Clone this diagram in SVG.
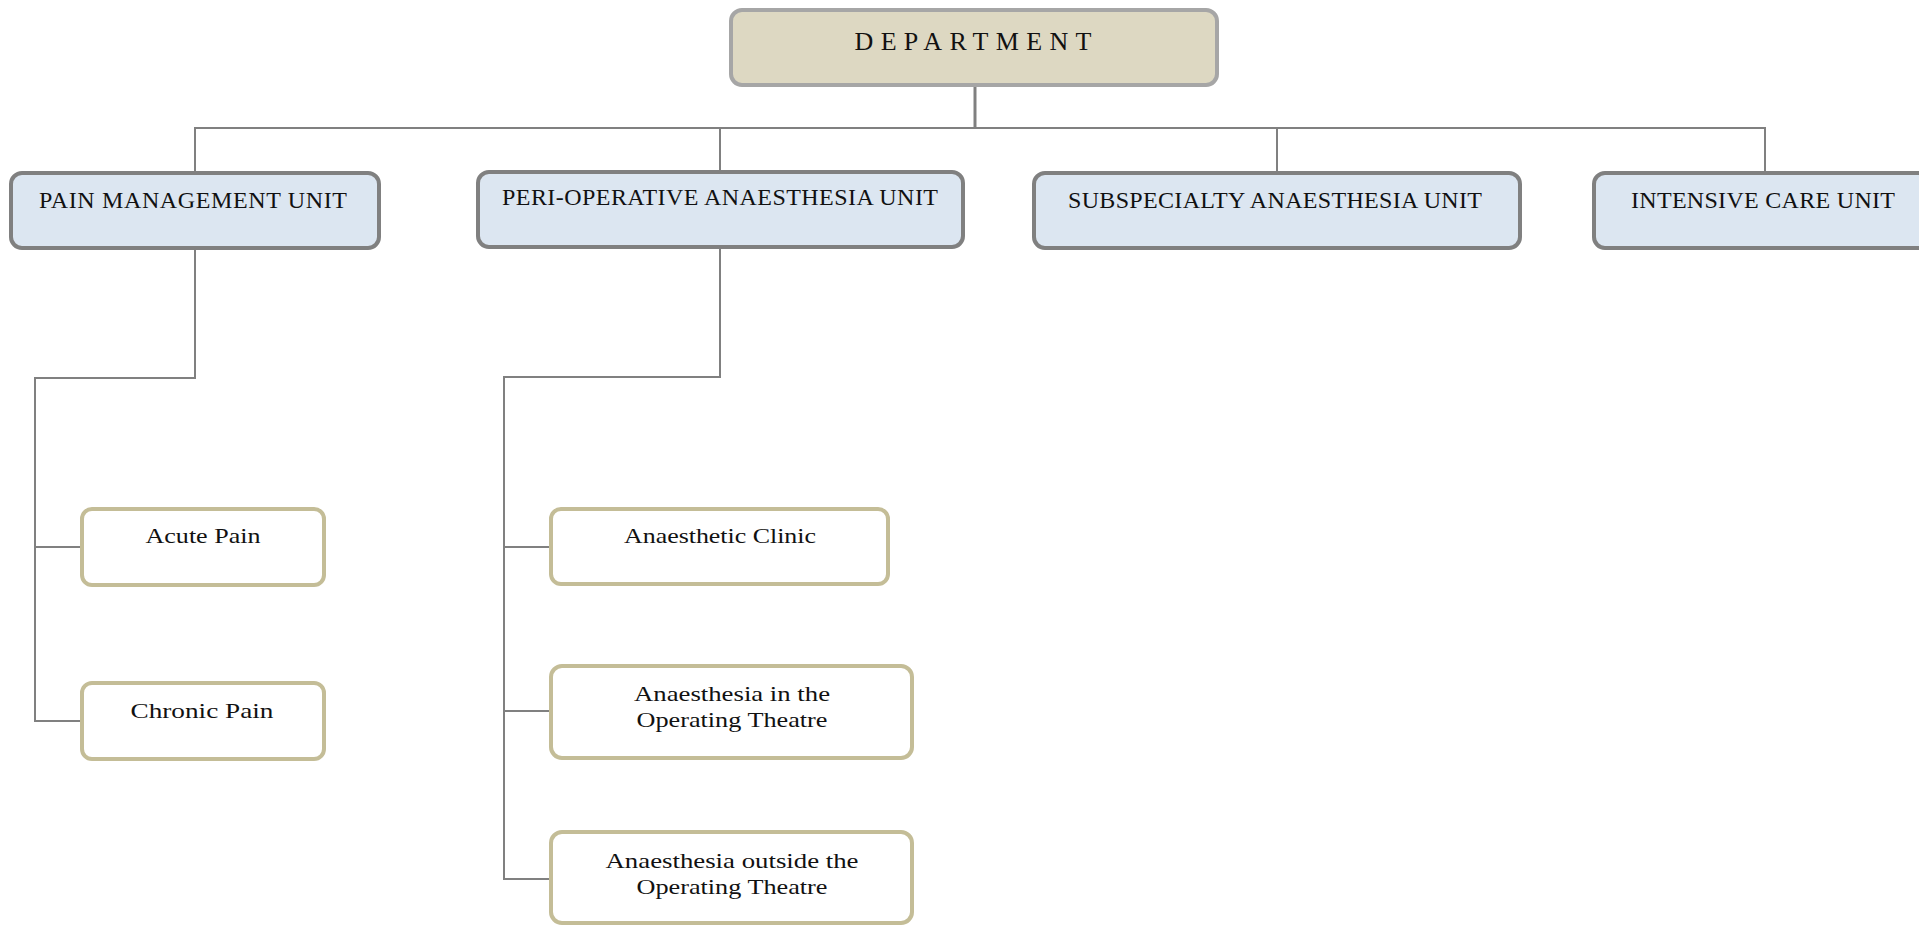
<svg xmlns="http://www.w3.org/2000/svg" width="1919" height="925" viewBox="0 0 1919 925">
<style>
.conn{fill:none;stroke:#808080;stroke-width:2}
.dept rect{fill:#ddd8c2;stroke:#a6a6a6;stroke-width:4}
.unit rect{fill:#dce6f1;stroke:#808080;stroke-width:4}
.leaf rect{fill:#ffffff;stroke:#c4bd97;stroke-width:4}
text{font-family:"Liberation Serif","DejaVu Serif",serif;fill:#111;text-anchor:middle}
.ut{font-size:24px}
.lt{font-size:21px}
</style>
<rect width="1919" height="925" fill="#ffffff"/>
<g id="connectors">
<path class="conn" d="M975 85V128" style="stroke-width:3"/>
<path class="conn" d="M195 173V128H1765V173"/>
<path class="conn" d="M720 172V128"/>
<path class="conn" d="M1277 173V128"/>
<path class="conn" d="M195 248V378H35V721H82"/>
<path class="conn" d="M35 547H82"/>
<path class="conn" d="M720 247V377H504V879H551"/>
<path class="conn" d="M504 547H551"/>
<path class="conn" d="M504 711H551"/>
</g>
<g id="department" class="dept">
<rect x="731" y="10" width="486" height="75" rx="11"/>
<text x="973" y="50" style="font-size:26px" textLength="237" lengthAdjust="spacing">DEPARTMENT</text>
</g>
<g id="pain-management-unit" class="unit">
<rect x="11" y="173" width="368" height="75" rx="11"/>
<text class="ut" x="193" y="208" textLength="308" lengthAdjust="spacing">PAIN MANAGEMENT UNIT</text>
</g>
<g id="peri-operative-unit" class="unit">
<rect x="478" y="172" width="485" height="75" rx="11"/>
<text class="ut" x="720" y="205" textLength="436" lengthAdjust="spacing">PERI-OPERATIVE ANAESTHESIA UNIT</text>
</g>
<g id="subspecialty-unit" class="unit">
<rect x="1034" y="173" width="486" height="75" rx="11"/>
<text class="ut" x="1275" y="208" textLength="414" lengthAdjust="spacing">SUBSPECIALTY ANAESTHESIA UNIT</text>
</g>
<g id="intensive-care-unit" class="unit">
<rect x="1594" y="173" width="360" height="75" rx="11"/>
<text class="ut" x="1763" y="208" textLength="264" lengthAdjust="spacing">INTENSIVE CARE UNIT</text>
</g>
<g id="acute-pain" class="leaf">
<rect x="82" y="509" width="242" height="76" rx="10"/>
<text class="lt" x="203" y="543" textLength="115" lengthAdjust="spacingAndGlyphs">Acute Pain</text>
</g>
<g id="chronic-pain" class="leaf">
<rect x="82" y="683" width="242" height="76" rx="10"/>
<text class="lt" x="202" y="718" textLength="143" lengthAdjust="spacingAndGlyphs">Chronic Pain</text>
</g>
<g id="anaesthetic-clinic" class="leaf">
<rect x="551" y="509" width="337" height="75" rx="10"/>
<text class="lt" x="720" y="543" textLength="192" lengthAdjust="spacingAndGlyphs">Anaesthetic Clinic</text>
</g>
<g id="anaesthesia-in-ot" class="leaf">
<rect x="551" y="666" width="361" height="92" rx="11"/>
<text class="lt" x="732" y="701" textLength="196" lengthAdjust="spacingAndGlyphs">Anaesthesia in the</text>
<text class="lt" x="732" y="727" textLength="191" lengthAdjust="spacingAndGlyphs">Operating Theatre</text>
</g>
<g id="anaesthesia-outside-ot" class="leaf">
<rect x="551" y="832" width="361" height="91" rx="11"/>
<text class="lt" x="732" y="868" textLength="253" lengthAdjust="spacingAndGlyphs">Anaesthesia outside the</text>
<text class="lt" x="732" y="894" textLength="191" lengthAdjust="spacingAndGlyphs">Operating Theatre</text>
</g>
</svg>
